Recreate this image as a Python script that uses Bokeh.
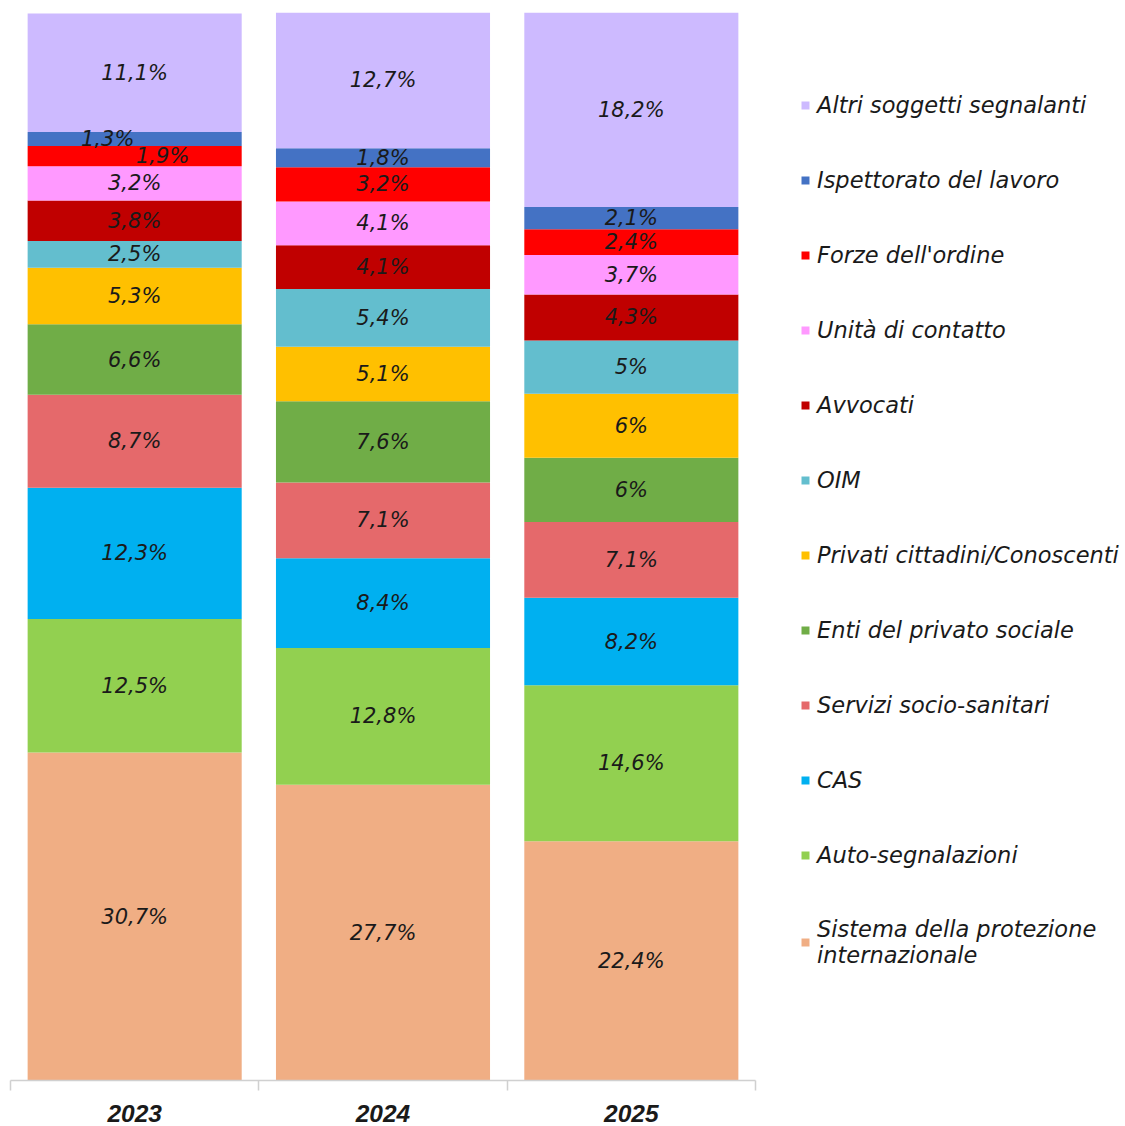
import numpy as np
from bokeh.plotting import figure
from bokeh.models import (ColumnDataSource, Range1d, LinearAxis, FixedTicker,
                          Legend, LegendItem)
from bokeh.core.properties import value
from bokeh.embed import file_html
from bokeh.resources import INLINE

years = ["2023", "2024", "2025"]
categories = [
    "Sistema della protezione\ninternazionale",
    "Auto-segnalazioni",
    "CAS",
    "Servizi socio-sanitari",
    "Enti del privato sociale",
    "Privati cittadini/Conoscenti",
    "OIM",
    "Avvocati",
    "Unità di contatto",
    "Forze dell'ordine",
    "Ispettorato del lavoro",
    "Altri soggetti segnalanti",
]
vals_2023 = [30.7, 12.5, 12.3, 8.7, 6.6, 5.3, 2.5, 3.8, 3.2, 1.9, 1.3, 11.1]
vals_2024 = [27.7, 12.8, 8.4, 7.1, 7.6, 5.1, 5.4, 4.1, 4.1, 3.2, 1.8, 12.7]
vals_2025 = [22.4, 14.6, 8.2, 7.1, 6.0, 6.0, 5.0, 4.3, 3.7, 2.4, 2.1, 18.2]
colors = ["#F0AE84", "#92D050", "#00B0F0", "#E5696B", "#70AD47", "#FFC000",
          "#63BECE", "#C00000", "#FF99FF", "#FF0000", "#4472C4", "#CDBAFF"]

values = np.array([vals_2023, vals_2024, vals_2025])  # years x categories
xpos = np.arange(len(years)) + 0.5
keys = [f"c{i}" for i in range(len(categories))]

data = {"x": xpos}
for i, k in enumerate(keys):
    data[k] = values[:, i]
src = ColumnDataSource(data)

FRAME_W = 1115
CAT_W = 745 / 3.0

p = figure(width=1125, height=1126, output_backend="svg", toolbar_location=None,
           x_range=Range1d(0, FRAME_W / CAT_W), y_range=Range1d(0, 100),
           min_border_left=10, min_border_right=0, min_border_top=12,
           min_border_bottom=46, x_axis_location=None, y_axis_location=None)
p.outline_line_color = None
p.xgrid.visible = False
p.ygrid.visible = False
p.background_fill_color = "white"
p.border_fill_color = "white"

renderers = p.vbar_stack(keys, x="x", width=0.862, color=colors, source=src,
                         line_color=None)

# data labels
def fmt(v):
    s = f"{v:.1f}".replace(".", ",")
    if s.endswith(",0"):
        s = s[:-2]
    return s + "%"

lx, ly, lt, lxo = [], [], [], []
offsets = {(0, 10): -27, (0, 9): 28}
for yi in range(len(years)):
    cum = 0.0
    for ci in range(len(categories)):
        v = values[yi, ci]
        lx.append(xpos[yi])
        ly.append(cum + v / 2)
        lt.append(fmt(v))
        lxo.append(offsets.get((yi, ci), 0))
        cum += v
lsrc = ColumnDataSource(dict(x=lx, y=ly, t=lt, xo=lxo))
p.text(x="x", y="y", text="t", x_offset="xo", source=lsrc,
       text_font=value("DejaVu Sans"), text_font_style="italic",
       text_font_size="21px", text_color="#1a1a1a",
       text_align="center", text_baseline="middle")

# x axis
ax = LinearAxis(ticker=FixedTicker(ticks=list(xpos), minor_ticks=[0, 1, 2, 3]),
                bounds=(0, 3))
ax.major_label_overrides = {float(x): y for x, y in zip(xpos, years)}
ax.axis_line_color = "#d0d0d0"
ax.axis_line_width = 1.5
ax.major_tick_in = 0
ax.major_tick_out = 0
ax.minor_tick_in = 0
ax.minor_tick_out = 10
ax.minor_tick_line_color = "#d0d0d0"
ax.minor_tick_line_width = 1.5
ax.major_label_text_font = "Liberation Sans"
ax.major_label_text_font_style = "bold italic"
ax.major_label_text_font_size = "24.5px"
ax.major_label_text_color = "#1a1a1a"
ax.major_label_standoff = 14
p.add_layout(ax, "below")

items = [LegendItem(label=categories[i], renderers=[renderers[i]])
         for i in reversed(range(len(categories)))]
leg = Legend(items=items, location=(790, 112))
leg.padding = 0
leg.margin = 0
leg.border_line_alpha = 0
leg.background_fill_alpha = 0
leg.glyph_width = 10
leg.glyph_height = 10
leg.label_height = 27
leg.spacing = 48
leg.label_standoff = 7
leg.label_text_font = "DejaVu Sans"
leg.label_text_font_style = "italic"
leg.label_text_font_size = "22.5px"
leg.label_text_color = "#1a1a1a"
p.add_layout(leg, "center")

open("out.html", "w").write(file_html(p, INLINE))
